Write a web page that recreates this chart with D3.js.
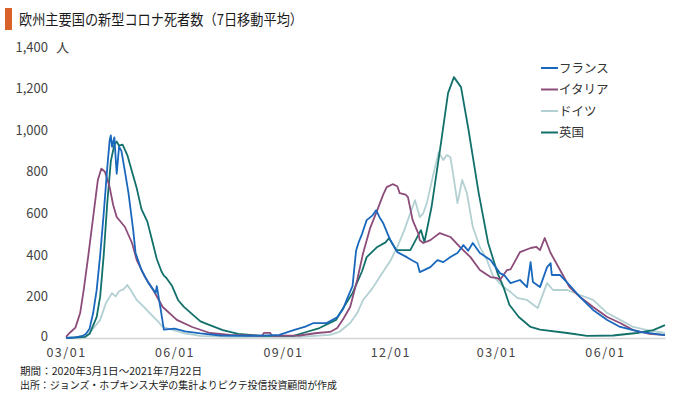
<!DOCTYPE html>
<html><head><meta charset="utf-8">
<script src="https://cdn.jsdelivr.net/npm/d3@7"></script>
<style>body{margin:0;background:#fff;}svg{display:block;}</style>
</head><body>
<svg id="chart" width="680" height="393"></svg>
<script>
const titleText = "欧州主要国の新型コロナ死者数（7日移動平均）";
const unitText = "人";
const notes = ["期間：2020年3月1日～2021年7月22日", "出所：ジョンズ・ホプキンス大学の集計よりピクテ投信投資顧問が作成"];
const seriesNames = ["フランス", "イタリア", "ドイツ", "英国"];
const seriesColors = ["#1a68bd", "#8c4c7a", "#b3d0d2", "#12706b"];
const yTicks = [0, 200, 400, 600, 800, 1000, 1200, 1400];
const xTicks = ["2020-03-01", "2020-06-01", "2020-09-01", "2020-12-01", "2021-03-01", "2021-06-01"];
const xStart = "2020-03-01", xEnd = "2021-07-22";

const france = [
["2020-03-01",0],["2020-03-09",3],["2020-03-15",10],["2020-03-18",20],["2020-03-21",45],["2020-03-24",120],["2020-03-27",230],["2020-03-30",400],["2020-04-02",600],["2020-04-05",820],["2020-04-07",950],["2020-04-08",975],["2020-04-09",920],["2020-04-11",965],["2020-04-13",790],["2020-04-15",920],["2020-04-17",900],["2020-04-20",800],["2020-04-23",697],["2020-04-27",519],["2020-04-29",409],["2020-05-04",327],["2020-05-10",264],["2020-05-16",216],["2020-05-17",250],["2020-05-20",149],["2020-05-23",40],["2020-06-01",45],["2020-06-10",32],["2020-06-23",22],["2020-07-10",12],["2020-08-04",10],["2020-08-29",15],["2020-09-10",38],["2020-09-20",55],["2020-09-27",72],["2020-10-08",72],["2020-10-17",100],["2020-10-22",140],["2020-10-25",183],["2020-10-30",250],["2020-11-02",420],["2020-11-04",457],["2020-11-07",500],["2020-11-11",567],["2020-11-16",590],["2020-11-19",615],["2020-11-22",580],["2020-11-25",553],["2020-12-01",471],["2020-12-07",413],["2020-12-15",389],["2020-12-19",375],["2020-12-24",360],["2020-12-26",317],["2020-12-31",330],["2021-01-04",341],["2021-01-10",375],["2021-01-15",365],["2021-01-21",390],["2021-01-27",409],["2021-02-01",447],["2021-02-05",420],["2021-02-09",457],["2021-02-15",409],["2021-02-24",375],["2021-03-04",312],["2021-03-08",300],["2021-03-13",264],["2021-03-21",279],["2021-03-27",245],["2021-03-30",365],["2021-04-01",269],["2021-04-07",245],["2021-04-13",341],["2021-04-16",360],["2021-04-17",303],["2021-04-24",303],["2021-05-02",255],["2021-05-11",197],["2021-05-22",135],["2021-06-03",87],["2021-06-14",53],["2021-07-01",29],["2021-07-22",14]
];
const italy = [
["2020-03-01",5],["2020-03-04",24],["2020-03-09",50],["2020-03-13",120],["2020-03-16",230],["2020-03-20",400],["2020-03-24",580],["2020-03-28",760],["2020-03-31",815],["2020-04-03",800],["2020-04-07",726],["2020-04-10",640],["2020-04-13",582],["2020-04-20",534],["2020-04-26",457],["2020-04-30",375],["2020-05-07",293],["2020-05-14",231],["2020-05-22",149],["2020-06-03",87],["2020-06-16",53],["2020-07-01",24],["2020-07-18",15],["2020-08-14",10],["2020-08-16",25],["2020-08-21",25],["2020-08-23",10],["2020-09-15",12],["2020-09-30",24],["2020-10-11",29],["2020-10-17",48],["2020-10-22",90],["2020-10-28",149],["2020-11-03",280],["2020-11-08",409],["2020-11-14",530],["2020-11-20",615],["2020-11-25",690],["2020-11-28",726],["2020-12-03",740],["2020-12-07",730],["2020-12-09",697],["2020-12-14",690],["2020-12-16",678],["2020-12-20",567],["2020-12-25",500],["2020-12-26",471],["2020-12-29",457],["2021-01-04",471],["2021-01-12",505],["2021-01-21",486],["2021-01-29",438],["2021-02-07",389],["2021-02-15",327],["2021-02-24",293],["2021-03-02",288],["2021-03-04",279],["2021-03-10",327],["2021-03-13",330],["2021-03-21",413],["2021-03-30",433],["2021-04-04",438],["2021-04-07",423],["2021-04-11",481],["2021-04-16",409],["2021-04-24",327],["2021-05-02",245],["2021-05-11",197],["2021-05-22",149],["2021-06-03",101],["2021-06-14",72],["2021-06-25",38],["2021-07-09",20],["2021-07-22",14]
];
const germany = [
["2020-03-01",0],["2020-03-17",2],["2020-03-21",24],["2020-03-30",87],["2020-04-04",170],["2020-04-09",216],["2020-04-12",200],["2020-04-15",225],["2020-04-19",235],["2020-04-22",255],["2020-04-25",230],["2020-04-30",183],["2020-05-06",150],["2020-05-11",120],["2020-05-18",80],["2020-05-22",53],["2020-06-08",24],["2020-06-23",10],["2020-07-18",5],["2020-09-15",5],["2020-10-11",15],["2020-10-19",30],["2020-10-28",72],["2020-11-03",120],["2020-11-08",183],["2020-11-16",240],["2020-11-22",293],["2020-12-01",370],["2020-12-07",438],["2020-12-13",520],["2020-12-18",601],["2020-12-22",663],["2020-12-26",582],["2020-12-29",600],["2021-01-01",649],["2021-01-06",774],["2021-01-11",894],["2021-01-15",856],["2021-01-18",880],["2021-01-21",870],["2021-01-23",800],["2021-01-27",649],["2021-01-31",760],["2021-02-04",697],["2021-02-09",534],["2021-02-15",438],["2021-02-21",375],["2021-02-26",300],["2021-03-07",245],["2021-03-13",221],["2021-03-19",192],["2021-03-27",183],["2021-04-05",144],["2021-04-13",264],["2021-04-18",231],["2021-04-30",231],["2021-05-11",207],["2021-05-22",183],["2021-06-03",120],["2021-06-14",87],["2021-06-25",53],["2021-07-09",35],["2021-07-22",24]
];
const uk = [
["2020-03-01",0],["2020-03-17",5],["2020-03-21",20],["2020-03-27",100],["2020-03-30",200],["2020-04-02",400],["2020-04-05",650],["2020-04-08",850],["2020-04-11",930],["2020-04-13",945],["2020-04-15",925],["2020-04-18",930],["2020-04-22",880],["2020-04-26",800],["2020-04-30",720],["2020-05-04",620],["2020-05-09",560],["2020-05-13",470],["2020-05-17",380],["2020-05-21",320],["2020-05-23",300],["2020-05-25",290],["2020-05-30",250],["2020-06-04",183],["2020-06-09",150],["2020-06-15",120],["2020-06-23",80],["2020-07-01",62],["2020-07-12",38],["2020-07-25",20],["2020-08-15",10],["2020-09-10",10],["2020-09-18",24],["2020-10-02",48],["2020-10-16",87],["2020-10-20",125],["2020-10-30",216],["2020-11-07",320],["2020-11-11",389],["2020-11-20",438],["2020-11-27",460],["2020-11-30",481],["2020-12-06",423],["2020-12-18",423],["2020-12-27",519],["2020-12-30",462],["2021-01-05",630],["2021-01-13",938],["2021-01-19",1178],["2021-01-24",1255],["2021-01-30",1207],["2021-02-05",1014],["2021-02-14",697],["2021-02-22",457],["2021-03-02",312],["2021-03-07",245],["2021-03-12",160],["2021-03-20",101],["2021-03-30",53],["2021-04-07",40],["2021-04-30",24],["2021-05-17",10],["2021-06-08",12],["2021-06-28",24],["2021-07-12",38],["2021-07-22",62]
];

const parse = d3.timeParse("%Y-%m-%d");
const svg = d3.select("#chart");
const jp = "'Noto Sans CJK JP','Noto Sans',sans-serif";

const x = d3.scaleTime().domain([parse(xStart), parse(xEnd)]).range([66, 665]);
const y = d3.scaleLinear().domain([0, 1400]).range([338, 47]);

// title
svg.append("rect").attr("x", 5).attr("y", 8).attr("width", 7).attr("height", 22).attr("fill", "#d9622b");
svg.append("text").attr("x", 19).attr("y", 25).text(titleText)
  .attr("font-family", jp).attr("font-size", 14.5).attr("fill", "#1a1a1a")
  .attr("textLength", 284).attr("lengthAdjust", "spacingAndGlyphs");

// y axis labels
const yAxis = d3.axisLeft(y).tickValues(yTicks).tickFormat(d3.format(",")).tickSize(0).tickPadding(0);
const yg = svg.append("g").attr("transform", "translate(48,0)").call(yAxis);
yg.select(".domain").remove();
yg.selectAll("text").attr("font-family", jp).attr("font-size", 13).attr("fill", "#444");
yg.selectAll(".tick").filter(d => d === 0).select("text").attr("dy", "0.2em");
svg.append("text").attr("x", 56).attr("y", y(1400)).attr("dy", "0.35em").text(unitText)
  .attr("font-family", jp).attr("font-size", 13).attr("fill", "#444");

// x axis
const xAxis = d3.axisBottom(x).tickValues(xTicks.map(parse)).tickFormat(d3.timeFormat("%m/%d")).tickSize(0).tickPadding(10);
const xg = svg.append("g").attr("transform", "translate(0,338)").call(xAxis);
xg.select(".domain").attr("stroke", "#d4d4d4").attr("stroke-width", 1.5);
xg.selectAll("text").attr("font-family", jp).attr("font-size", 12.5).attr("fill", "#444").attr("letter-spacing", "1.5px");

// lines
const line = d3.line().x(d => x(parse(d[0]))).y(d => y(d[1])).curve(d3.curveLinear);
const allSeries = [france, italy, germany, uk];
const drawOrder = [2, 3, 1, 0];
drawOrder.forEach(i => {
  svg.append("path").datum(allSeries[i]).attr("d", line)
    .attr("fill", "none").attr("stroke", seriesColors[i]).attr("stroke-width", 1.8)
    .attr("stroke-linejoin", "round");
});

// legend
const lg = svg.append("g").attr("transform", "translate(541,68)");
seriesNames.forEach((n, i) => {
  const g = lg.append("g").attr("transform", `translate(0,${i * 21.5})`);
  g.append("line").attr("x1", 0).attr("x2", 17).attr("y1", 0).attr("y2", 0)
    .attr("stroke", seriesColors[i]).attr("stroke-width", 2);
  g.append("text").attr("x", 18).attr("y", 0).attr("dy", "0.36em").text(n)
    .attr("font-family", jp).attr("font-size", 12.5).attr("fill", "#333");
});

// notes
svg.append("text").attr("x", 20).attr("y", 375).text(notes[0])
  .attr("font-family", jp).attr("font-size", 10.5).attr("fill", "#222")
  .attr("textLength", 182).attr("lengthAdjust", "spacingAndGlyphs");
svg.append("text").attr("x", 20).attr("y", 389).text(notes[1])
  .attr("font-family", jp).attr("font-size", 10.5).attr("fill", "#222")
  .attr("textLength", 317).attr("lengthAdjust", "spacingAndGlyphs");
</script>
</body></html>
